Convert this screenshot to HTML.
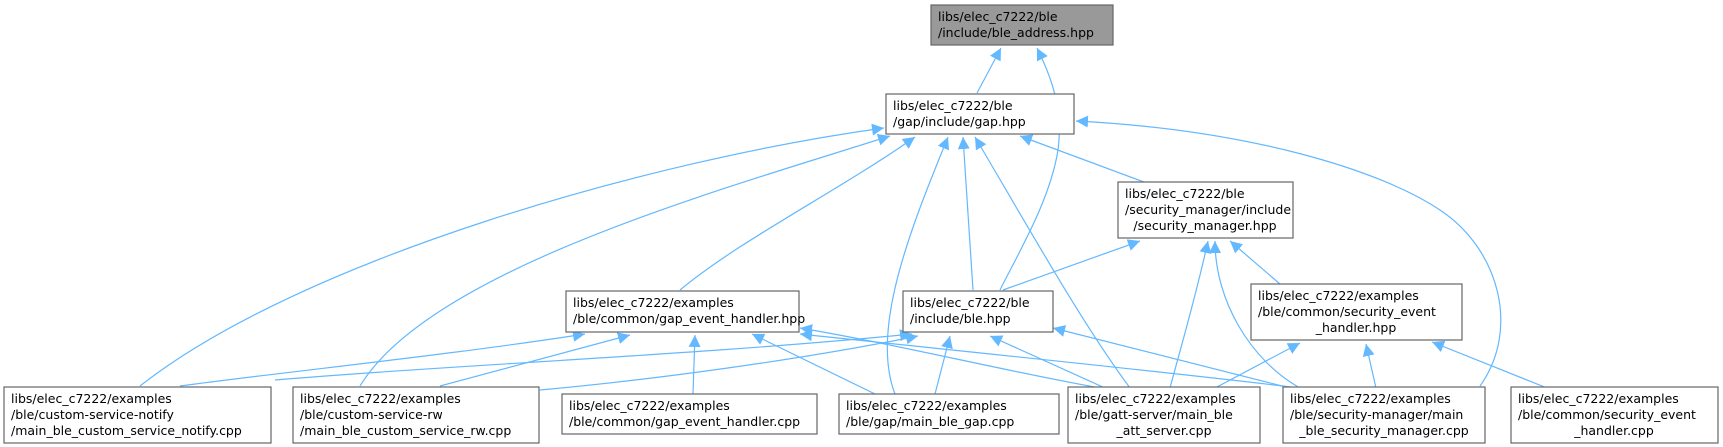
<!DOCTYPE html>
<html><head><meta charset="utf-8"><style>
html,body{margin:0;padding:0;background:#fff;}
svg{display:block;}
text{font-family:"DejaVu Sans","Liberation Sans",sans-serif;font-size:12.5px;fill:#000;}
.b{fill:#fff;stroke:#666;stroke-width:1.2;}
.e{fill:none;stroke:#63b8ff;stroke-width:1.2;}
</style></head><body>
<svg width="1723" height="447" viewBox="0 0 1723 447" xmlns="http://www.w3.org/2000/svg">
<defs><marker id="a" viewBox="0 0 10 10" refX="10" refY="5" markerWidth="12" markerHeight="12" markerUnits="userSpaceOnUse" orient="auto-start-reverse"><path d="M0,0 L10,5 L0,10 Z" fill="#63b8ff"/></marker></defs>
<g class="edges">
<path class="e" marker-start="url(#a)" d="M1001,48 L977,93"/>
<path class="e" marker-start="url(#a)" d="M1037,48 C1058,90 1062,120 1058,150 C1050,200 1020,250 1000,290"/>
<path class="e" marker-start="url(#a)" d="M884,128 C650,160 300,260 140,386"/>
<path class="e" marker-start="url(#a)" d="M890,136 C720,190 430,270 360,386"/>
<path class="e" marker-start="url(#a)" d="M915,137 C840,190 740,240 680,290"/>
<path class="e" marker-start="url(#a)" d="M948,137 C910,230 870,330 895,394"/>
<path class="e" marker-start="url(#a)" d="M963,137 L973,290"/>
<path class="e" marker-start="url(#a)" d="M975,137 C1030,230 1080,320 1130,388"/>
<path class="e" marker-start="url(#a)" d="M1020,136 L1144,182"/>
<path class="e" marker-start="url(#a)" d="M1076,121 C1250,130 1380,170 1440,210 C1500,250 1520,330 1480,386"/>
<path class="e" marker-start="url(#a)" d="M1140,241 L1003,290"/>
<path class="e" marker-start="url(#a)" d="M1230,241 L1280,284"/>
<path class="e" marker-start="url(#a)" d="M1208,241 C1195,300 1180,350 1170,388"/>
<path class="e" marker-start="url(#a)" d="M1215,241 C1215,300 1250,360 1300,388"/>
<path class="e" marker-start="url(#a)" d="M585,334 C450,355 300,370 180,386"/>
<path class="e" marker-start="url(#a)" d="M630,335 L440,386"/>
<path class="e" marker-start="url(#a)" d="M695,335 L693,394"/>
<path class="e" marker-start="url(#a)" d="M752,334 L875,394"/>
<path class="e" marker-start="url(#a)" d="M800,328 C900,345 1000,370 1100,388"/>
<path class="e" marker-start="url(#a)" d="M800,334 C950,350 1150,370 1300,388"/>
<path class="e" marker-start="url(#a)" d="M912,334 C700,355 450,365 275,380"/>
<path class="e" marker-start="url(#a)" d="M918,336 C800,360 650,380 540,390"/>
<path class="e" marker-start="url(#a)" d="M950,336 L935,394"/>
<path class="e" marker-start="url(#a)" d="M990,336 L1105,388"/>
<path class="e" marker-start="url(#a)" d="M1053,328 L1290,388"/>
<path class="e" marker-start="url(#a)" d="M1300,343 L1215,388"/>
<path class="e" marker-start="url(#a)" d="M1366,344 L1376,388"/>
<path class="e" marker-start="url(#a)" d="M1432,342 L1547,388"/>
</g>
<g>
<rect x="931" y="5" width="182" height="40" fill="#999" stroke="#666" stroke-width="1.2"/>
<text x="938" y="21">libs/elec_c7222/ble</text><text x="938" y="37">/include/ble_address.hpp</text>

<rect class="b" x="886" y="94" width="188" height="40"/>
<text x="893" y="110">libs/elec_c7222/ble</text><text x="893" y="126">/gap/include/gap.hpp</text>

<rect class="b" x="1118" y="182" width="175" height="56"/>
<text x="1125" y="198">libs/elec_c7222/ble</text><text x="1125" y="214">/security_manager/include</text><text x="1205" y="230" text-anchor="middle">/security_manager.hpp</text>

<rect class="b" x="566" y="291" width="233" height="41"/>
<text x="573" y="307">libs/elec_c7222/examples</text><text x="573" y="323">/ble/common/gap_event_handler.hpp</text>

<rect class="b" x="903" y="291" width="150" height="41"/>
<text x="910" y="307">libs/elec_c7222/ble</text><text x="910" y="323">/include/ble.hpp</text>

<rect class="b" x="1251" y="284" width="211" height="56"/>
<text x="1258" y="300">libs/elec_c7222/examples</text><text x="1258" y="316">/ble/common/security_event</text><text x="1356" y="332" text-anchor="middle">_handler.hpp</text>

<rect class="b" x="4" y="387" width="267" height="56"/>
<text x="11" y="403">libs/elec_c7222/examples</text><text x="11" y="419">/ble/custom-service-notify</text><text x="11" y="435">/main_ble_custom_service_notify.cpp</text>

<rect class="b" x="293" y="387" width="246" height="56"/>
<text x="300" y="403">libs/elec_c7222/examples</text><text x="300" y="419">/ble/custom-service-rw</text><text x="300" y="435">/main_ble_custom_service_rw.cpp</text>

<rect class="b" x="562" y="394" width="255" height="40"/>
<text x="569" y="410">libs/elec_c7222/examples</text><text x="569" y="426">/ble/common/gap_event_handler.cpp</text>

<rect class="b" x="839" y="394" width="220" height="40"/>
<text x="846" y="410">libs/elec_c7222/examples</text><text x="846" y="426">/ble/gap/main_ble_gap.cpp</text>

<rect class="b" x="1068" y="387" width="192" height="56"/>
<text x="1075" y="403">libs/elec_c7222/examples</text><text x="1075" y="419">/ble/gatt-server/main_ble</text><text x="1164" y="435" text-anchor="middle">_att_server.cpp</text>

<rect class="b" x="1283" y="387" width="202" height="56"/>
<text x="1290" y="403">libs/elec_c7222/examples</text><text x="1290" y="419">/ble/security-manager/main</text><text x="1384" y="435" text-anchor="middle">_ble_security_manager.cpp</text>

<rect class="b" x="1511" y="387" width="207" height="56"/>
<text x="1518" y="403">libs/elec_c7222/examples</text><text x="1518" y="419">/ble/common/security_event</text><text x="1614" y="435" text-anchor="middle">_handler.cpp</text>
</g>
</svg>
</body></html>
